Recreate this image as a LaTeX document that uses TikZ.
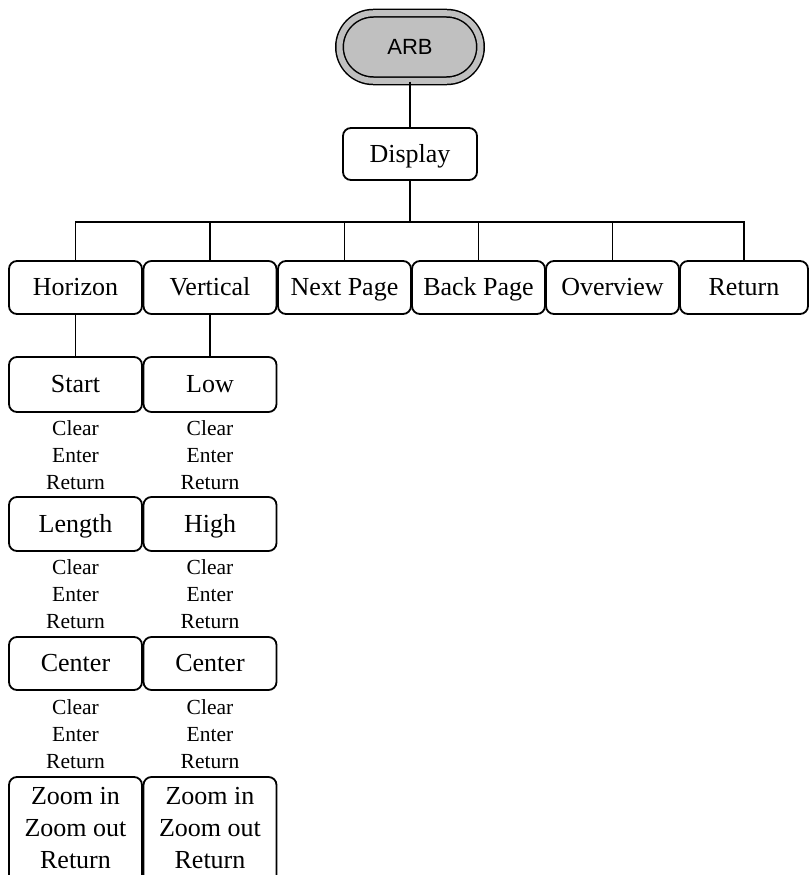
\documentclass[tikz,border=0pt]{standalone}
\usepackage{fontspec}
\setmainfont{Liberation Serif}
\newfontfamily\arbfont{Liberation Sans}
\usetikzlibrary{shapes.misc}
\definecolor{arbgray}{HTML}{C0C0C0}
\begin{document}
\begin{tikzpicture}[x=1pt,y=-1pt,
  menubox/.style={draw,line width=1.8pt,rounded corners=8pt,minimum width=133pt,minimum height=53pt,inner sep=0pt,text height=20pt,text depth=4pt,font=\fontsize{26}{32}\selectfont},
  keylist/.style={align=center,inner sep=0pt,font=\fontsize{21.5}{27}\selectfont},
  wire/.style={line width=1.8pt}]
\useasboundingbox (0,0) rectangle (809,875);
\clip (0,0) rectangle (809,875);
% top
\node[draw,line width=1.5pt,shape=rounded rectangle,minimum width=141pt,minimum height=67.5pt,inner sep=0pt,
  double=arbgray,double distance=6pt,fill=arbgray,font=\arbfont\fontsize{22}{26}\selectfont] (arb) at (410,47) {ARB};
\node[menubox,minimum width=134pt,minimum height=52pt] (disp) at (410,154) {Display};
\coordinate (bus) at (0,222);
% row
\node[menubox] (hor) at (75.5,287.5) {Horizon};
\node[menubox] (ver) at (210,287.5) {Vertical};
\node[menubox] (next) at (344.5,287.5) {Next Page};
\node[menubox] (back) at (478.5,287.5) {Back Page};
\node[menubox] (over) at (612.5,287.5) {Overview};
\node[menubox,minimum width=128pt] (ret) at (744,287.5) {Return};
% column 1
\node[menubox,minimum height=55pt] (start) at (75.5,384.5) {Start};
\node[keylist] (k1a) at (75.5,455) {Clear\\Enter\\Return};
\node[menubox,minimum height=54pt] (len) at (75.5,524) {Length};
\node[keylist] (k1b) at (75.5,594) {Clear\\Enter\\Return};
\node[menubox] (cen1) at (75.5,663.5) {Center};
\node[keylist] (k1c) at (75.5,734) {Clear\\Enter\\Return};
\node[draw,line width=1.8pt,rounded corners=8pt,minimum width=133pt,minimum height=120pt] (zoom1) at (75.5,837) {};
\node[keylist,font=\fontsize{26}{32}\selectfont] (z1t) at (75.5,828) {Zoom in\\Zoom out\\Return};
% column 2
\node[menubox,minimum height=55pt] (low) at (210,384.5) {Low};
\node[keylist] (k2a) at (210,455) {Clear\\Enter\\Return};
\node[menubox,minimum height=54pt] (high) at (210,524) {High};
\node[keylist] (k2b) at (210,594) {Clear\\Enter\\Return};
\node[menubox] (cen2) at (210,663.5) {Center};
\node[keylist] (k2c) at (210,734) {Clear\\Enter\\Return};
\node[draw,line width=1.8pt,rounded corners=8pt,minimum width=133pt,minimum height=120pt] (zoom2) at (210,837) {};
\node[keylist,font=\fontsize{26}{32}\selectfont] (z2t) at (210,828) {Zoom in\\Zoom out\\Return};
% connectors
\draw[wire] (arb.south) -- (disp.north);
\draw[wire] (disp.south) -- (disp.south |- bus);
\draw[wire] (hor.north) -- (hor.north |- bus) -- (ret.north |- bus) -- (ret.north);
\foreach \n in {ver,next,back,over} \draw[wire] (\n.north) -- (\n.north |- bus);
\draw[wire] (hor.south) -- (start.north);
\draw[wire] (ver.south) -- (low.north);
\end{tikzpicture}
\end{document}
